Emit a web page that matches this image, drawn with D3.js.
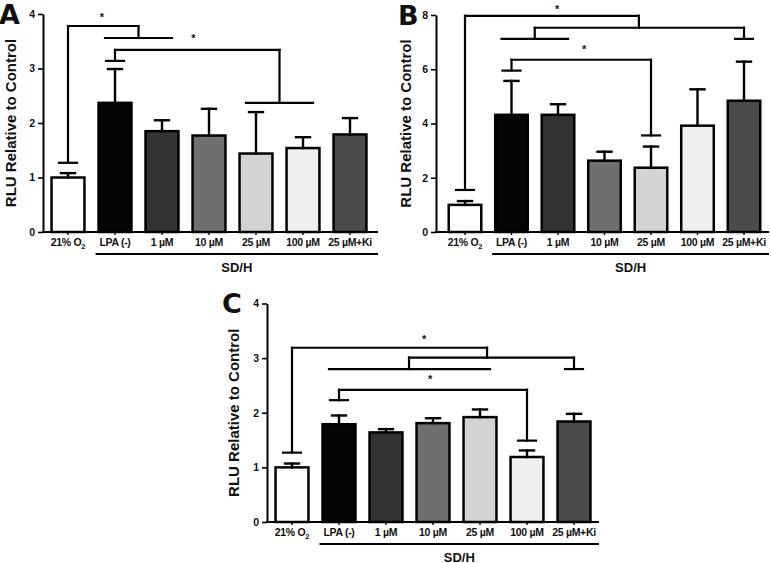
<!DOCTYPE html>
<html><head><meta charset="utf-8">
<script src="https://cdn.jsdelivr.net/npm/d3@7"></script>
<style>
body{margin:0;background:#fff}
svg{display:block}
text{font-family:"Liberation Sans",Arial,sans-serif;font-weight:bold;fill:#111}
</style>
</head><body>
<svg id="chart" width="771" height="563"></svg>
<script>
// ---------- data ----------
const categories = ["21% O2", "LPA (-)", "1 µM", "10 µM", "25 µM", "100 µM", "25 µM+Ki"];
const groupLabel = "SD/H";
const yTitle = "RLU Relative to Control";
const barColors = ["#ffffff", "#050505", "#333333", "#6f6f6f", "#d3d3d3", "#efefef", "#4b4b4b"];

const valuesA = [1.00, 2.37, 1.85, 1.77, 1.44, 1.54, 1.79];
const errA    = [0.08, 0.62, 0.20, 0.49, 0.76, 0.20, 0.30];
const ticksA  = [0, 1, 2, 3, 4];

const valuesB = [1.00, 4.32, 4.32, 2.63, 2.37, 3.92, 4.84];
const errB    = [0.14, 1.25, 0.39, 0.33, 0.78, 1.34, 1.44];
const ticksB  = [0, 2, 4, 6, 8];

const valuesC = [1.00, 1.79, 1.64, 1.81, 1.92, 1.19, 1.84];
const errC    = [0.07, 0.16, 0.06, 0.09, 0.14, 0.12, 0.14];
const ticksC  = [0, 1, 2, 3, 4];

// significance brackets: legs at (fractional) category index, heights in data units
const bracketsA = [
  {left: 0, leftEnd: 1.27, right: 1.5, rightEnd: 3.56, top: 3.78, star: 0.72, starY: 3.98},
  {left: 1, leftEnd: 3.14, right: 4.5, rightEnd: 2.37, top: 3.34, star: 2.67, starY: 3.60}
];
const groupsA = [{from: 1, to: 2, y: 3.56}, {from: 4, to: 5, y: 2.37}];

const bracketsB = [
  {left: 0, leftEnd: 1.55, right: 3.74, rightEnd: 7.53, top: 7.97, star: 1.98, starY: 8.30},
  {left: 1.5, leftEnd: 7.12, right: 6, rightEnd: 7.12, top: 7.53},
  {left: 1, leftEnd: 5.95, right: 4, rightEnd: 3.56, top: 6.35, star: 2.56, starY: 6.83}
];
const groupsB = [{from: 1, to: 2, y: 7.12}];

const bracketsC = [
  {left: 0, leftEnd: 1.27, right: 4.15, rightEnd: 3.01, top: 3.19, star: 2.81, starY: 3.39},
  {left: 2.49, leftEnd: 2.80, right: 6, rightEnd: 2.80, top: 3.01},
  {left: 1, leftEnd: 2.23, right: 5, rightEnd: 1.49, top: 2.42, star: 2.94, starY: 2.66}
];
const groupsC = [{from: 1, to: 4, y: 2.80}];

// ---------- drawing ----------
const svg = d3.select("#chart");
svg.append("rect").attr("width", 771).attr("height", 563).attr("fill", "#fff");

function drawPanel(p) {
  const g = svg.append("g");
  const yMax = p.ticks[p.ticks.length - 1];
  const y = d3.scaleLinear().domain([0, yMax]).range([p.y0, p.yTop]);
  const x = d3.scaleBand().domain(d3.range(categories.length))
    .range([p.r0, p.r1]).paddingInner(0.3).paddingOuter(0.15);
  const cx = i => x(0) + x.bandwidth() / 2 + i * x.step();
  const ln = (x1, y1, x2, y2, w) => g.append("line")
    .attr("x1", x1).attr("y1", y1).attr("x2", x2).attr("y2", y2)
    .attr("stroke", "#000").attr("stroke-width", w || 2.2).attr("stroke-linecap", "square");

  // y axis
  const ya = g.append("g").attr("transform", `translate(${p.axisX},0)`)
    .call(d3.axisLeft(y).tickValues(p.ticks).tickFormat(d3.format("d"))
      .tickSize(5).tickSizeOuter(0).tickPadding(3));
  ya.select(".domain").attr("stroke", "#000").attr("stroke-width", 2);
  ya.selectAll(".tick line").attr("stroke", "#000").attr("stroke-width", 1.6);
  ya.selectAll(".tick text").style("font-size", "10.5px")
    .style("font-family", "Liberation Sans, Arial, sans-serif").style("font-weight", "bold").attr("fill", "#222");

  // x axis ticks
  const xa = g.append("g").attr("transform", `translate(0,${p.y0})`)
    .call(d3.axisBottom(x).tickSize(3).tickFormat(""));
  xa.select(".domain").remove();
  xa.selectAll(".tick line").attr("stroke", "#000").attr("stroke-width", 1.4);

  // bars
  g.selectAll("rect.bar").data(p.values).enter().append("rect")
    .attr("class", "bar")
    .attr("x", (d, i) => x(i)).attr("width", x.bandwidth())
    .attr("y", d => y(d)).attr("height", d => p.y0 - y(d))
    .attr("fill", (d, i) => barColors[i])
    .attr("stroke", "#000").attr("stroke-width", 2.5);

  // x axis line on top of bars
  ln(p.axisX, p.y0, p.lineEnd, p.y0, 2);

  // error bars (upper only)
  p.values.forEach((v, i) => {
    const top = y(v + p.err[i]);
    ln(cx(i), y(v), cx(i), top, 2.4);
    ln(cx(i) - 7, top, cx(i) + 7, top, 2.4);
  });

  // brackets
  p.brackets.forEach(b => {
    const xl = cx(b.left), xr = cx(b.right), yt = y(b.top);
    ln(xl, y(b.leftEnd), xl, yt);
    ln(xl, yt, xr, yt);
    ln(xr, yt, xr, y(b.rightEnd));
    if (Number.isInteger(b.left)) ln(xl - 9, y(b.leftEnd), xl + 9, y(b.leftEnd));
    if (Number.isInteger(b.right)) ln(xr - 9, y(b.rightEnd), xr + 9, y(b.rightEnd));
    if (b.star !== undefined) {
      g.append("text").attr("x", cx(b.star)).attr("y", y(b.starY) + 6)
        .attr("text-anchor", "middle").style("font-size", "11px").text("*");
    }
  });
  p.groups.forEach(gr => ln(cx(gr.from) - 10, y(gr.y), cx(gr.to) + 10, y(gr.y)));

  // category labels
  categories.forEach((c, i) => {
    const t = g.append("text").attr("x", cx(i)).attr("y", p.y0 + 14)
      .attr("text-anchor", "middle").style("font-size", "10.5px")
      .style("letter-spacing", "-0.3px").attr("fill", "#222");
    if (c === "21% O2") {
      t.append("tspan").text("21% O");
      t.append("tspan").attr("dy", 2.5).style("font-size", "7.5px").text("2");
    } else t.text(c);
  });

  // SD/H group line + label
  const ux0 = x(1) - 2;
  ln(ux0, p.y0 + 22, p.lineEnd, p.y0 + 22, 2);
  g.append("text").attr("x", (ux0 + p.lineEnd) / 2).attr("y", p.y0 + 39.5)
    .attr("text-anchor", "middle").style("font-size", "13px").attr("fill", "#222").text(groupLabel);

  // y title
  g.append("text")
    .attr("transform", `translate(${p.titleX},${(p.y0 + p.yTop) / 2}) rotate(-90)`)
    .attr("text-anchor", "middle").attr("dominant-baseline", "central")
    .style("font-size", "15px").attr("fill", "#222").text(yTitle);

  // panel letter
  g.append("text").attr("x", p.letterX).attr("y", p.letterY)
    .style("font-size", "27px").style("font-family", "DejaVu Sans, sans-serif")
    .attr("fill", "#000").text(p.letter);
}

drawPanel({letter: "A", values: valuesA, err: errA, ticks: ticksA, brackets: bracketsA, groups: groupsA,
  axisX: 43, r0: 44.5, r1: 373.5, lineEnd: 377, y0: 232, yTop: 14, titleX: 10, letterX: -1, letterY: 24});
drawPanel({letter: "B", values: valuesB, err: errB, ticks: ticksB, brackets: bracketsB, groups: groupsB,
  axisX: 436, r0: 441.75, r1: 767.25, lineEnd: 768, y0: 232, yTop: 15, titleX: 405, letterX: 398, letterY: 25});
drawPanel({letter: "C", values: valuesC, err: errC, ticks: ticksC, brackets: bracketsC, groups: groupsC,
  axisX: 267, r0: 268.5, r1: 597.5, lineEnd: 598, y0: 522, yTop: 303.5, titleX: 233, letterX: 222, letterY: 313});
</script>
</body></html>
